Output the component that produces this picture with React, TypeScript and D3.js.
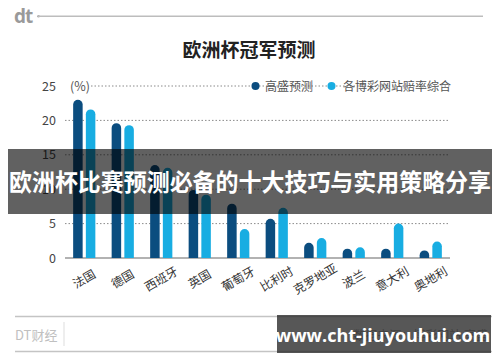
import React from "react";
import * as d3 from "d3";

const categories = ["法国", "德国", "西班牙", "英国", "葡萄牙", "比利时", "克罗地亚", "波兰", "意大利", "奥地利"];
const goldmanValues = [23.0, 19.6, 13.5, 9.9, 7.9, 5.7, 2.2, 1.35, 1.35, 1.1];
const oddsValues = [21.6, 19.3, 13.1, 9.2, 4.2, 7.3, 2.9, 1.55, 5.0, 2.4];
const seriesNames = ["高盛预测", "各博彩网站赔率综合"];
const seriesColors = ["#0b4d7f", "#18ade2"];
const yTicks = [0, 5, 10, 15, 20, 25];

const FONT = "'Noto Sans CJK SC', 'Noto Sans', sans-serif";

function barPath(x: number, y: number, w: number, h: number) {
  const r = Math.min(w / 2, h);
  return `M${x},${y + h} L${x},${y + r} A${r},${r} 0 0 1 ${x + w},${y + r} L${x + w},${y + h} Z`;
}

export default function App() {
  const x0 = d3.scaleBand<string>().domain(categories).range([65, 450]).padding(0);
  const groupW = 22.2;
  const x1 = d3.scaleBand<string>().domain(["a", "b"]).range([0, groupW]).paddingInner(0.252);
  const y = d3.scaleLinear().domain([0, 25]).range([258, 86]);

  const series = [goldmanValues, oddsValues];
  const keys = ["a", "b"];

  return (
    <svg width={500} height={362} style={{ position: "absolute", left: 0, top: 0, background: "#fff" }} fontFamily={FONT}>
      <rect x={0} y={0} width={500} height={362} fill="#fff" />
      {/* header */}
      <text x={14} y={23} fontSize={19} fontWeight={700} fill="#9a9a9a" fontFamily="'Open Sans', sans-serif" letterSpacing={-1}>dt</text>
      <circle cx={38.5} cy={16.3} r={1.3} fill="#aaa" />
      <line x1={38} x2={483} y1={16.3} y2={16.3} stroke="#bdbdbd" strokeWidth={1.5} />

      {/* title */}
      <text x={249} y={57} textAnchor="middle" fontSize={19} fontWeight={700} fill="#222">欧洲杯冠军预测</text>

      {/* grid */}
      {yTicks.filter(t => t > 0).map(t => (
        <line key={t} x1={t === 25 ? 91 : 65} x2={450} y1={y(t)} y2={y(t)} stroke="#8a8a8a" strokeWidth={1} strokeDasharray="1.5,2" />
      ))}
      <line x1={65} x2={450} y1={y(0)} y2={y(0)} stroke="#999" strokeWidth={1.5} />
      {yTicks.map(t => (
        <text key={t} x={56} y={y(t) + 4.5} textAnchor="end" fontSize={12.5} fill="#444">{t}</text>
      ))}
      <text x={70} y={y(25) + 4.5} fontSize={12.5} fill="#555">(%)</text>

      {/* legend */}
      <circle cx={255.5} cy={86} r={4} fill={seriesColors[0]} />
      <text x={265} y={90.5} fontSize={12} fill="#555">{seriesNames[0]}</text>
      <circle cx={331.5} cy={86} r={4} fill={seriesColors[1]} />
      <text x={343} y={90.5} fontSize={12} fill="#555">{seriesNames[1]}</text>

      {/* bars */}
      {categories.map((c, i) => {
        const gx = (x0(c) as number) + (x0.bandwidth() - groupW) / 2;
        return (
          <g key={c}>
            {series.map((vals, s) => {
              const bx = gx + (x1(keys[s]) as number);
              const top = y(vals[i]);
              return <path key={s} d={barPath(bx, top, x1.bandwidth(), y(0) - top)} fill={seriesColors[s]} />;
            })}
          </g>
        );
      })}

      {/* category labels */}
      {categories.map(c => {
        const cx = (x0(c) as number) + x0.bandwidth() / 2 + 0.5;
        const cy = 280;
        return (
          <text key={c} x={cx} y={cy} textAnchor="middle" dominantBaseline="middle" fontSize={12} fill="#333"
            transform={`rotate(-30, ${cx}, ${cy})`}>{c}</text>
        );
      })}

      {/* footer */}
      <line x1={15} x2={492} y1={316.5} y2={316.5} stroke="#c4c4c4" strokeWidth={1.5} />
      <line x1={15} x2={492} y1={351.5} y2={351.5} stroke="#c4c4c4" strokeWidth={1.5} />
      <text x={15} y={340} fontSize={13} fill="#c0c0c0">DT财经</text>
      <line x1={64} x2={64} y1={322} y2={346} stroke="#ddd" strokeWidth={1} />
      <text x={488} y={340} textAnchor="end" fontSize={12} fill="#999">数据来源：博彩网站 高盛</text>

      {/* overlay banner */}
      <rect x={8} y={149} width={484} height={65} fill="rgba(0,0,0,0.62)" />
      <text x={250} y={191} textAnchor="middle" fontSize={24} fontWeight={700} fill="#fff" textLength={482} lengthAdjust="spacingAndGlyphs">欧洲杯比赛预测必备的十大技巧与实用策略分享</text>

      {/* watermark */}
      <rect x={277} y={315} width={214} height={38} fill="rgba(40,40,40,0.78)" />
      <text x={383} y={342} textAnchor="middle" fontSize={18} fontWeight={700} fill="#fff" fontFamily="'Open Sans', 'DejaVu Sans', sans-serif">www.cht-jiuyouhui.com</text>
    </svg>
  );
}
